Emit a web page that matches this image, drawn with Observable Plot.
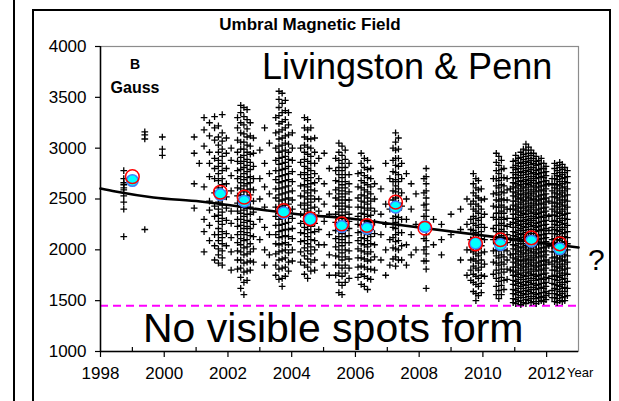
<!DOCTYPE html>
<html>
<head>
<meta charset="utf-8">
<script src="https://cdn.jsdelivr.net/npm/d3@7"></script>
<script src="https://cdn.jsdelivr.net/npm/@observablehq/plot@0.6"></script>
<style>
  html, body { margin: 0; padding: 0; background: #fff; }
  #wrap { position: relative; width: 619px; height: 401px; overflow: hidden; }
  .ln { position: absolute; background: #000; }
</style>
</head>
<body>
<div id="wrap">
  <div class="ln" style="left:13px;top:0;width:2px;height:401px;"></div>
  <div class="ln" style="left:32px;top:9px;width:1.5px;height:392px;"></div>
  <div class="ln" style="left:32px;top:9px;width:579px;height:1.5px;"></div>
  <div class="ln" style="left:609px;top:9px;width:2px;height:392px;"></div>
</div>
<script>
// ---- data ----
const xTickYears = [1998, 2000, 2002, 2004, 2006, 2008, 2010, 2012];
const xMinorYears = [1999, 2001, 2003, 2005, 2007, 2009, 2011];
const yTickValues = [1000, 1500, 2000, 2500, 3000, 3500, 4000];

// individual umbral field measurements, one entry per observing date (year) with its values (G)
const obsYears = [
  1998.73, 1999.39, 1999.94, 2000.94, 2001.10,
  2001.25, 2001.42, 2001.58, 2001.70, 2001.82, 2001.95, 2002.10,
  2002.30, 2002.40, 2002.50, 2002.60, 2002.70, 2002.80,
  2003.00, 2003.15, 2003.30,
  2003.50, 2003.60, 2003.70, 2003.80, 2003.90, 2004.02,
  2004.28, 2004.40, 2004.50, 2004.60, 2004.72, 2004.85,
  2005.02, 2005.18,
  2005.38, 2005.48, 2005.58, 2005.68, 2005.80,
  2006.08, 2006.18, 2006.28, 2006.38, 2006.48, 2006.60,
  2006.80, 2006.95, 2007.08,
  2007.18, 2007.26, 2007.35, 2007.45,
  2007.60, 2007.75, 2007.90,
  2008.15, 2008.22,
  2008.45, 2008.70, 2009.00, 2009.30, 2009.50,
  2009.62, 2009.70, 2009.78, 2009.86, 2009.95, 2010.05,
  2010.33, 2010.42, 2010.50, 2010.58, 2010.66, 2010.76, 2010.86,
  2010.95, 2011.03, 2011.11, 2011.19, 2011.27, 2011.35, 2011.43, 2011.51,
  2011.59, 2011.67, 2011.75, 2011.83, 2011.91, 2011.98, 2012.07,
  2012.17, 2012.25, 2012.33, 2012.41, 2012.49, 2012.57, 2012.65
];
const obsValues = [
  "2780 2700 2660 2640 2610 2590 2530 2470 2400 2130",
  "3160 3130 3090 2200",
  "3110 2990 2930",
  "3110 2950 2650 2410",
  "2850",
  "3300 3180 3020 2620 2300 2180 1980",
  "3250 3120 2960 2850 2720 2480 2390 2240 2090",
  "3310 3200 3080 2900 2800 2700 2560 2430 2330 2150 2040 1900",
  "3220 3110 3030 2960 2880 2820 2750 2680 2610 2540 2470 2400 2340 2280 2210 2150 2090 2010 1950 1870",
  "3330 3150 3070 2990 2920 2850 2780 2700 2640 2580 2500 2440 2370 2310 2250 2180 2120 2060 1990 1920 1850",
  "3100 2950 2800 2650 2520 2410 2290 2160 2040",
  "3000 2880 2730 2580 2380 2260 2120 1980 1800",
  "3300 3200 3080 2960 2870 2780 2700 2610 2530 2460 2380 2300 2230 2150 2070 1990 1900 1810",
  "3420 3350 3250 3150 3060 2990 2910 2850 2790 2720 2660 2600 2540 2480 2420 2360 2300 2240 2180 2110 2050 1980 1900 1820 1730 1620",
  "3400 3310 3230 3140 3060 2990 2930 2870 2810 2750 2690 2630 2570 2510 2450 2390 2330 2270 2210 2150 2090 2020 1950 1870 1780 1680 1560",
  "3380 3280 3190 3110 3030 2960 2890 2830 2770 2710 2650 2590 2530 2470 2410 2350 2290 2230 2170 2100 2030 1960 1880 1790 1700",
  "3250 3120 3020 2940 2860 2790 2720 2660 2600 2540 2480 2420 2350 2280 2210 2140 2060 1980 1890 1800",
  "3100 2950 2820 2700 2590 2480 2370 2250 2130 2010 1880",
  "2980 2700 2500 2300 2100",
  "3200 2850 2620 2420 2220 2000 1850",
  "3050 2750 2550 2150 1950",
  "3300 3150 3000 2880 2780 2690 2600 2510 2420 2330 2240 2150 2060 1960 1850 1750",
  "3560 3480 3400 3320 3240 3160 3090 3020 2960 2900 2840 2780 2720 2660 2600 2540 2480 2420 2360 2300 2240 2180 2120 2050 1980 1900 1810 1710",
  "3540 3440 3350 3260 3180 3100 3030 2970 2910 2850 2790 2730 2670 2610 2550 2490 2430 2370 2310 2250 2190 2130 2060 1990 1910 1820 1720 1640",
  "3470 3370 3280 3200 3120 3050 2980 2920 2860 2800 2740 2680 2620 2560 2500 2440 2380 2320 2260 2200 2140 2070 2000 1920 1830 1740",
  "3350 3230 3130 3040 2960 2890 2820 2750 2690 2630 2570 2510 2450 2390 2330 2270 2200 2130 2050 1970 1880 1790",
  "3150 3000 2880 2770 2670 2580 2490 2400 2310 2210 2110 2000 1890",
  "3000 2860 2740 2630 2530 2440 2350 2260 2170 2080 1980 1880",
  "3300 3200 3110 3030 2960 2890 2820 2760 2700 2640 2580 2520 2460 2400 2340 2280 2220 2160 2090 2020 1940 1850 1760",
  "3280 3180 3090 3010 2940 2870 2800 2740 2680 2620 2560 2500 2440 2380 2320 2260 2200 2130 2060 1990 1910 1830 1720",
  "3200 3090 3000 2920 2850 2780 2710 2650 2590 2530 2470 2410 2350 2290 2230 2170 2100 2030 1960 1880 1790",
  "3100 2960 2850 2750 2660 2580 2500 2420 2340 2260 2180 2090 2000 1900 1800",
  "2900 2700 2500 2380 2200 2050",
  "2950 2650 2450 2280 2050 1850",
  "2800 2550 2350 2150 1950 1750",
  "2900 2780 2680 2590 2510 2430 2350 2270 2190 2110 2030 1940 1850 1750",
  "3050 2960 2880 2810 2740 2670 2610 2550 2490 2430 2370 2310 2250 2190 2130 2070 2000 1930 1850 1770 1680 1580",
  "3020 2930 2850 2780 2710 2640 2580 2520 2460 2400 2340 2280 2220 2160 2100 2040 1970 1900 1820 1740 1650 1560",
  "2980 2890 2810 2740 2670 2610 2550 2490 2430 2370 2310 2250 2190 2130 2070 2000 1930 1850 1770 1680",
  "2850 2740 2650 2570 2490 2420 2350 2280 2210 2140 2070 1990 1910 1820 1720",
  "2750 2620 2510 2420 2330 2250 2170 2090 2010 1920 1830 1730",
  "2950 2850 2760 2680 2610 2540 2480 2420 2360 2300 2240 2180 2120 2060 1990 1920 1840 1760 1660",
  "2900 2810 2730 2660 2590 2530 2470 2410 2350 2290 2230 2170 2110 2050 1980 1910 1830 1740 1640",
  "2880 2790 2710 2640 2570 2510 2450 2390 2330 2270 2210 2150 2090 2030 1960 1890 1810 1720 1610",
  "2800 2700 2620 2550 2480 2410 2340 2270 2200 2130 2060 1980 1900 1810 1710",
  "2650 2500 2380 2270 2160 2050 1930 1800",
  "2600 2350 2150 1900",
  "2850 2450 2250 2000 1750",
  "2700 2400 2100 1850",
  "3000 2880 2770 2670 2580 2490 2400 2310 2220 2120 2020 1910",
  "3150 3060 2980 2900 2830 2760 2690 2630 2570 2510 2450 2390 2330 2270 2210 2150 2080 2010 1930 1840",
  "3100 2990 2900 2820 2740 2670 2600 2530 2460 2390 2320 2250 2170 2090 2000 1900",
  "2850 2700 2560 2430 2300 2170 2040 1900",
  "2750 2500 2300 2050 1850",
  "2650 2400 2150 1950",
  "2550 2250 2000",
  "2700 2560 2440 2330 2220 2110 2000 1890",
  "2800 2720 2650 2580 2510 2450 2390 2330 2270 2210 2150 2090 2030 1960 1890 1810 1620",
  "2300 2050",
  "2250 2100 1950",
  "2350 2150",
  "2400 2200 1900",
  "2500 2250 2000 1750",
  "2450 2300 2200 2100 2000 1900 1800 1700",
  "2750 2650 2560 2480 2400 2330 2260 2190 2120 2050 1980 1910 1840 1760 1680 1590",
  "2700 2610 2530 2450 2380 2310 2240 2170 2100 2030 1960 1890 1820 1740 1660 1570 1500",
  "2680 2590 2510 2430 2360 2290 2220 2150 2080 2010 1940 1870 1800 1720 1640 1550",
  "2600 2490 2400 2320 2250 2180 2110 2040 1970 1900 1830 1750 1670 1580",
  "2500 2350 2220 2100 1980 1860 1740",
  "2700 2550 2430 2320 2210 2100 1990 1880 1760",
  "2950 2860 2780 2700 2630 2560 2490 2420 2360 2300 2240 2180 2120 2060 2000 1940 1870 1800 1720 1640 1560",
  "2920 2830 2750 2680 2610 2540 2480 2420 2360 2300 2240 2180 2120 2060 1990 1920 1850 1770 1690 1600 1520",
  "2880 2790 2710 2640 2570 2500 2440 2380 2320 2260 2200 2140 2080 2020 1950 1880 1810 1730 1650 1560",
  "2800 2710 2630 2560 2490 2420 2360 2300 2240 2180 2120 2060 2000 1930 1860 1780 1700 1610",
  "2700 2590 2490 2400 2310 2230 2150 2070 1990 1900 1810 1710",
  "2600 2400 2250 2100 1950 1800",
  "2870 2810 2760 2710 2660 2620 2570 2530 2480 2440 2400 2350 2310 2270 2220 2180 2140 2090 2050 2010 1960 1920 1880 1830 1790 1750 1700 1660 1610 1570 1520 1480",
  "2930 2880 2830 2790 2740 2700 2650 2610 2560 2520 2480 2430 2390 2350 2300 2260 2220 2170 2130 2090 2040 2000 1960 1910 1870 1830 1780 1740 1690 1650 1600 1560 1510 1470",
  "2900 2850 2800 2760 2710 2670 2630 2580 2540 2500 2450 2410 2370 2320 2280 2240 2190 2150 2110 2060 2020 1980 1930 1890 1850 1800 1760 1710 1670 1620 1580 1530 1490",
  "2960 2910 2860 2820 2770 2730 2680 2640 2600 2550 2510 2470 2420 2380 2340 2290 2250 2210 2160 2120 2080 2030 1990 1950 1900 1860 1820 1770 1730 1680 1640 1590 1550 1500 1460",
  "2990 2940 2890 2850 2800 2760 2710 2670 2620 2580 2540 2490 2450 2410 2360 2320 2280 2230 2190 2150 2100 2060 2020 1970 1930 1890 1840 1800 1750 1710 1660 1620 1570 1530 1480",
  "3040 2980 2920 2870 2830 2780 2740 2690 2650 2610 2560 2520 2480 2430 2390 2350 2300 2260 2220 2170 2130 2090 2040 2000 1960 1910 1870 1830 1780 1740 1690 1650 1600 1560 1510 1470",
  "3010 2950 2900 2860 2810 2770 2720 2680 2640 2590 2550 2510 2460 2420 2380 2330 2290 2250 2200 2160 2120 2070 2030 1990 1940 1900 1860 1810 1770 1720 1680 1630 1590 1540 1500",
  "2980 2930 2880 2840 2790 2750 2700 2660 2620 2570 2530 2490 2440 2400 2360 2310 2270 2230 2180 2140 2100 2050 2010 1970 1920 1880 1840 1790 1750 1700 1660 1610 1570 1520 1480",
  "2950 2900 2850 2810 2760 2720 2680 2630 2590 2550 2500 2460 2420 2370 2330 2290 2240 2200 2160 2110 2070 2030 1980 1940 1900 1850 1810 1760 1720 1670 1630 1580 1540 1490",
  "2920 2870 2830 2780 2740 2700 2650 2610 2570 2520 2480 2440 2390 2350 2310 2260 2220 2180 2130 2090 2050 2000 1960 1920 1870 1830 1790 1740 1700 1650 1610 1560 1520 1470",
  "2880 2840 2790 2750 2710 2660 2620 2580 2530 2490 2450 2400 2360 2320 2270 2230 2190 2140 2100 2060 2010 1970 1930 1880 1840 1800 1750 1710 1660 1620 1570 1530 1490",
  "2900 2850 2800 2760 2720 2670 2630 2590 2540 2500 2460 2410 2370 2330 2280 2240 2200 2150 2110 2070 2020 1980 1940 1890 1850 1810 1760 1720 1670 1630 1580 1540 1500",
  "2850 2800 2760 2710 2670 2630 2580 2540 2500 2450 2410 2370 2320 2280 2240 2190 2150 2110 2060 2020 1980 1930 1890 1850 1800 1760 1710 1670 1620 1580 1530 1490",
  "2820 2770 2730 2680 2640 2600 2550 2510 2470 2420 2380 2340 2290 2250 2210 2160 2120 2080 2030 1990 1950 1900 1860 1820 1770 1730 1680 1640 1590 1550 1510",
  "2650 2480 2330 2190 2040 1880 1720 1570",
  "2700 2640 2580 2520 2460 2400 2340 2280 2220 2160 2100 2040 1980 1920 1860 1800 1740 1670 1600 1530",
  "2850 2800 2750 2700 2650 2610 2560 2520 2470 2430 2380 2340 2290 2250 2200 2160 2110 2070 2020 1980 1930 1890 1840 1800 1750 1710 1660 1620 1570 1530 1490",
  "2830 2780 2730 2690 2640 2600 2550 2510 2460 2420 2370 2330 2280 2240 2190 2150 2100 2060 2010 1970 1920 1880 1830 1790 1740 1700 1650 1610 1560 1520 1480",
  "2860 2810 2760 2720 2670 2630 2580 2540 2490 2450 2400 2360 2310 2270 2220 2180 2130 2090 2040 2000 1950 1910 1860 1820 1770 1730 1680 1640 1590 1550 1500",
  "2840 2790 2740 2700 2650 2610 2560 2520 2470 2430 2380 2340 2290 2250 2200 2160 2110 2070 2020 1980 1930 1890 1840 1800 1750 1710 1660 1620 1570 1530 1490",
  "2810 2760 2710 2670 2620 2580 2530 2490 2440 2400 2350 2310 2260 2220 2170 2130 2080 2040 1990 1950 1900 1860 1810 1770 1720 1680 1630 1590 1540 1500",
  "2780 2720 2660 2600 2540 2480 2420 2360 2300 2240 2180 2120 2060 2000 1940 1880 1820 1760 1690 1620 1550",
  "2700 2620 2540 2460 2380 2300 2220 2140 2060 1980 1900 1820 1730 1640 1560"
];

// averaged values (two estimates: red open circles and cyan dots)
const meanYears = [1999.0, 2001.76, 2002.51, 2003.75, 2004.58, 2005.57, 2006.36, 2007.26, 2008.18, 2009.77, 2010.55, 2011.52, 2012.41];
const meanRed  = [2720, 2567, 2518, 2387, 2305, 2255, 2240, 2469, 2213, 2059, 2099, 2118, 2059];
const meanCyan = [2682, 2544, 2478, 2364, 2298, 2229, 2210, 2420, 2229, 2065, 2052, 2085, 2010];

// fitted trend line
const trendYears = [1998.0, 1998.47, 1999.66, 2001.13, 2001.66, 2003.23, 2004.26, 2005.83, 2006.77, 2013.0];
const trendB     = [2603, 2574, 2515, 2475, 2456, 2387, 2348, 2308, 2269, 2023];

const noSpotLevel = 1450;

// ---- build tables ----
const points = [];
obsYears.forEach((yr, i) => {
  obsValues[i].split(" ").forEach(v => points.push({year: yr, B: +v}));
});
const means = meanYears.map((yr, i) => ({year: yr, red: meanRed[i], cyan: meanCyan[i]}));
const trend = trendYears.map((yr, i) => ({year: yr, B: trendB[i]}));

const FONT = "'Liberation Sans', Arial, sans-serif";

const chart = Plot.plot({
  width: 619,
  height: 401,
  marginLeft: 100,
  marginRight: 41,
  marginTop: 46,
  marginBottom: 50,
  style: {fontFamily: FONT, background: "transparent", color: "#000"},
  x: {domain: [1998, 2013]},
  y: {domain: [1000, 4000]},
  marks: [
    Plot.frame({stroke: "#8c8c8c", strokeWidth: 1.2}),
    Plot.ruleY([noSpotLevel], {stroke: "#ff00ff", strokeWidth: 2, strokeDasharray: "8,5"}),
    Plot.dot(points, {x: "year", y: "B", symbol: "plus", r: 2.3, stroke: "#000", strokeWidth: 1.3}),
    Plot.line(trend, {x: "year", y: "B", stroke: "#000", strokeWidth: 2.6, curve: "monotone-x"}),
    Plot.dot(means, {x: "year", y: "cyan", r: 5.8, fill: "#00ffff", stroke: "#3f7fff", strokeWidth: 1.5}),
    Plot.dot(means, {x: "year", y: "red", r: 6.8, fill: "none", stroke: "#ff0000", strokeWidth: 1.5}),
    Plot.ruleX([1998], {stroke: "#000", strokeWidth: 1.5}),
    Plot.ruleY([1000], {stroke: "#000", strokeWidth: 1.5}),
    Plot.ruleX(xMinorYears, {stroke: "#000", strokeWidth: 1.2, insetTop: 301}),
    Plot.axisX({ticks: xTickYears, tickSize: 6, tickPadding: 9, fontSize: 17, tickFormat: d => String(d), label: null, strokeWidth: 1.2}),
    Plot.axisY({ticks: yTickValues, tickSize: 5, tickPadding: 9, fontSize: 17, tickFormat: d => String(d), label: null, strokeWidth: 1.2})
  ]
});

const svg = d3.select(chart);
function addText(txt, x, y, size, weight, anchor) {
  svg.append("text").attr("x", x).attr("y", y)
    .attr("font-family", FONT).attr("font-size", size)
    .attr("font-weight", weight || "normal")
    .attr("text-anchor", anchor || "start")
    .attr("fill", "#000").text(txt);
}
addText("Umbral Magnetic Field", 310, 30, 17, "bold", "middle");
addText("B", 135, 69, 14, "bold", "middle");
addText("Gauss", 135, 93, 16, "bold", "middle");
addText("Livingston & Penn", 262, 79, 36, "normal", "start");
addText("No visible spots form", 143, 342, 41, "normal", "start");
addText("?", 588, 270, 30, "normal", "start");
addText("Year", 567, 377, 13, "normal", "start");

const wrap = document.getElementById("wrap");
chart.style.position = "absolute";
chart.style.left = "0px";
chart.style.top = "0px";
wrap.appendChild(chart);
</script>
</body>
</html>
